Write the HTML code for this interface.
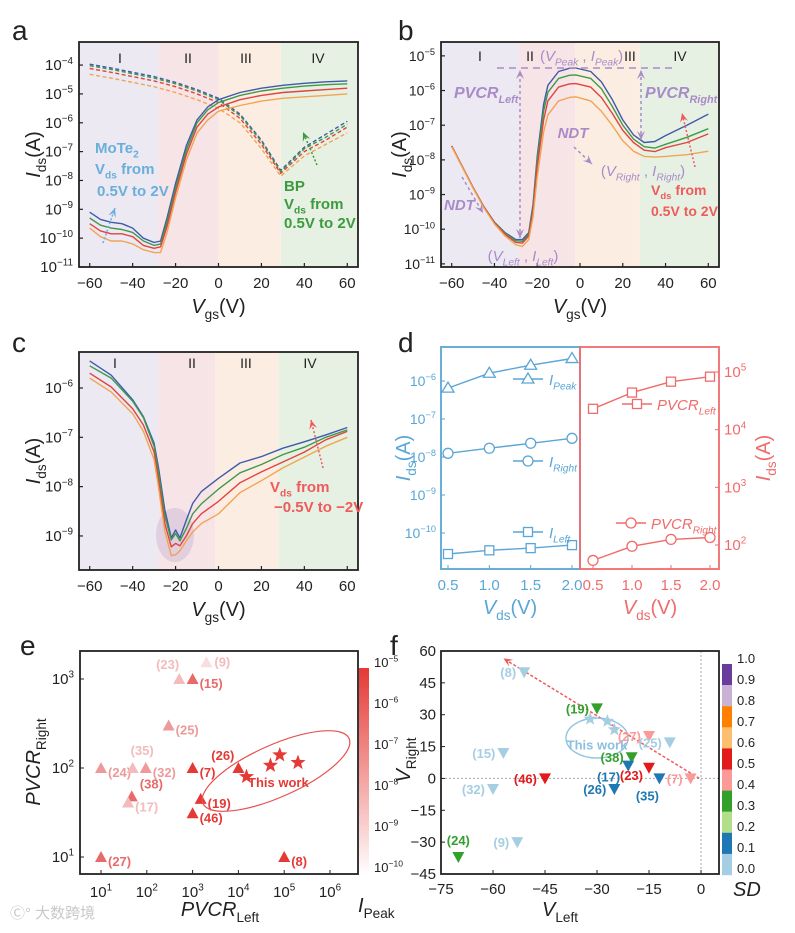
<!DOCTYPE html>
<html><head><meta charset="utf-8">
<style>
html,body{margin:0;padding:0;background:#fff;}
svg{display:block;font-family:"Liberation Sans",Arial,sans-serif;}
</style></head>
<body>
<svg id="fig" width="795" height="933" viewBox="0 0 795 933" xmlns="http://www.w3.org/2000/svg">
<defs>
<linearGradient id="cbE" x1="0" y1="0" x2="0" y2="1">
<stop offset="0" stop-color="#e53935"/><stop offset="1" stop-color="#ffffff"/>
</linearGradient>
</defs>
</svg>
<script>
// ---------- DATA ----------
// panel a (MoTe2 solid), log10(Ids)
const aSolidX = [-60,-55,-50,-45,-40,-35,-30,-27,-24,-20,-15,-10,-5,0,10,20,30,40,50,60];
const aSolidBlue = [-9.1,-9.35,-9.45,-9.5,-9.65,-10.0,-10.15,-10.1,-9.3,-8.1,-6.8,-5.9,-5.45,-5.2,-4.95,-4.8,-4.7,-4.63,-4.58,-4.55];
const aSolidGreen = [-9.3,-9.55,-9.65,-9.7,-9.8,-10.1,-10.25,-10.2,-9.45,-8.25,-6.95,-6.0,-5.55,-5.3,-5.05,-4.9,-4.8,-4.73,-4.68,-4.65];
const aSolidRed = [-9.5,-9.75,-9.85,-9.85,-9.95,-10.25,-10.35,-10.3,-9.6,-8.4,-7.1,-6.15,-5.7,-5.45,-5.2,-5.05,-4.95,-4.9,-4.85,-4.8];
const aSolidOrange = [-9.65,-9.95,-10.1,-10.1,-10.2,-10.4,-10.5,-10.5,-9.8,-8.6,-7.3,-6.35,-5.9,-5.6,-5.4,-5.25,-5.15,-5.1,-5.05,-5.0];
// panel a (BP dashed)
const aDashX = [-60,-50,-40,-30,-20,-10,0,10,20,29,40,50,60];
const aDashBlue = [-3.97,-4.1,-4.25,-4.4,-4.6,-4.85,-5.15,-5.7,-6.6,-7.65,-6.85,-6.4,-5.95];
const aDashGreen = [-4.02,-4.15,-4.3,-4.45,-4.65,-4.9,-5.2,-5.75,-6.65,-7.7,-6.9,-6.5,-6.05];
const aDashRed = [-4.12,-4.25,-4.4,-4.55,-4.75,-5.0,-5.3,-5.85,-6.75,-7.75,-7.0,-6.6,-6.15];
const aDashOrange = [-4.32,-4.45,-4.6,-4.75,-4.95,-5.2,-5.5,-6.0,-6.9,-7.85,-7.15,-6.75,-6.35];
// panel b
const bX = [-60,-55,-50,-45,-40,-35,-30,-27,-24,-22,-20,-17,-15,-10,-5,-2,5,10,15,20,25,30,35,40,50,60];
const bBlue = [-7.6,-8.2,-8.8,-9.35,-9.8,-10.1,-10.3,-10.3,-10.1,-9.3,-7.9,-6.4,-5.85,-5.45,-5.36,-5.35,-5.45,-5.75,-6.25,-6.85,-7.28,-7.5,-7.47,-7.3,-7.0,-6.68];
const bGreen = [-7.6,-8.2,-8.8,-9.35,-9.8,-10.12,-10.33,-10.35,-10.15,-9.4,-8.0,-6.6,-6.05,-5.65,-5.56,-5.55,-5.65,-5.95,-6.45,-7.0,-7.4,-7.62,-7.66,-7.55,-7.35,-7.1];
const bRed = [-7.6,-8.2,-8.8,-9.35,-9.82,-10.15,-10.38,-10.4,-10.2,-9.5,-8.2,-6.85,-6.3,-5.9,-5.81,-5.8,-5.9,-6.2,-6.65,-7.15,-7.5,-7.72,-7.76,-7.65,-7.5,-7.25];
const bOrange = [-7.62,-8.22,-8.82,-9.38,-9.85,-10.2,-10.45,-10.5,-10.3,-9.65,-8.5,-7.2,-6.7,-6.3,-6.2,-6.18,-6.3,-6.6,-7.0,-7.45,-7.75,-7.9,-7.92,-7.9,-7.85,-7.75];
// panel c
const cX = [-60,-50,-40,-35,-30,-28,-25,-22,-20,-18,-15,-12,-8,0,10,20,30,40,50,60];
const cBlue = [-5.45,-5.74,-6.24,-6.58,-7.12,-7.6,-8.47,-9.04,-8.88,-9.04,-8.68,-8.34,-8.1,-7.83,-7.52,-7.39,-7.22,-7.09,-6.95,-6.8];
const cGreen = [-5.55,-5.8,-6.27,-6.6,-7.18,-7.7,-8.6,-9.08,-8.95,-9.1,-8.85,-8.55,-8.35,-8.05,-7.72,-7.55,-7.35,-7.2,-7.0,-6.85];
const cRed = [-5.7,-5.98,-6.42,-6.75,-7.3,-7.85,-8.75,-9.22,-9.15,-9.2,-9.0,-8.75,-8.55,-8.3,-7.92,-7.7,-7.5,-7.3,-7.05,-6.88];
const cOrange = [-5.8,-6.08,-6.52,-6.88,-7.45,-8.0,-8.9,-9.4,-9.38,-9.3,-9.1,-8.92,-8.75,-8.55,-8.12,-7.88,-7.62,-7.4,-7.18,-7.0];
// panel d
const dVds = [0.5,1.0,1.5,2.0];
const dIPeak = [6.5e-7,1.6e-6,2.6e-6,3.9e-6];
const dIRight = [1.25e-8,1.7e-8,2.3e-8,3.1e-8];
const dILeft = [2.8e-11,3.5e-11,4.0e-11,4.8e-11];
const dPVCRLeft = [2.3e4,4.4e4,6.8e4,8.3e4];
const dPVCRRight = [54,95,125,135];
// panel e
const eLabels = ['(24)','(35)','(32)','(38)','(17)','(27)','(23)','(9)','(15)','(25)','(7)','(19)','(46)','(26)','(8)'];
const eLeft = [10,49,95,47,39,10,510,2000,1000,300,1000,1500,1000,1e4,1e5];
const eRight = [100,100,100,48,41,10,1000,1540,1000,300,100,45,31,100,10];
const eLevel = [2,1,2,3,1,3,1,0,3,2,4,4,4,4,4];
const eStarLeft = [1.5e4,5e4,8e4,2e5];
const eStarRight = [80,107,140,115];
// panel f
const fLabels = ['(8)','(19)','(27)','(25)','(15)','(38)','(17)','(23)','(46)','(35)','(7)','(32)','(26)','(24)','(9)'];
const fVLeft = [-51,-30,-15,-9,-57,-20,-21,-15,-45,-12,-3,-60,-25,-70,-53];
const fVRight = [50,33,20,17,12,10,6,5,0,0,0,-5,-5,-37,-30];
const fSD = [0.05,0.35,0.45,0.05,0.05,0.35,0.15,0.55,0.55,0.15,0.45,0.05,0.15,0.35,0.05];
const fStarLeft = [-32,-27,-25];
const fStarRight = [28,27,23];

// ---------- HELPERS ----------
const svg = document.getElementById('fig');
const NS = 'http://www.w3.org/2000/svg';
function mk(tag, attrs, name, parent){
  const el = document.createElementNS(NS, tag);
  for (const k in attrs) el.setAttribute(k, attrs[k]);
  
  
  (parent||svg).appendChild(el);
  return el;
}
function txt(x,y,s,opt,name){
  opt = opt||{};
  const t = mk('text',{x:x,y:y,'font-size':opt.size||15,fill:opt.fill||'#222','text-anchor':opt.anchor||'middle','font-weight':opt.weight||'normal','font-style':opt.style||'normal'},name);
  if (opt.rot) t.setAttribute('transform','rotate('+opt.rot+' '+x+' '+y+')');
  t.textContent = s;
  return t;
}
function rich(x,y,parts,opt,name){
  opt = opt||{};
  const size = opt.size||15;
  const t = mk('text',{x:x,y:y,'font-size':size,fill:opt.fill||'#222','text-anchor':opt.anchor||'middle','font-weight':opt.weight||'normal'},name);
  if (opt.rot) t.setAttribute('transform','rotate('+opt.rot+' '+x+' '+y+')');
  let shift = 0;
  parts.forEach(p=>{
    const ts = document.createElementNS(NS,'tspan');
    let dy = 0, fs = size;
    if (p[1]==='sub'){ dy = size*0.3 - shift; shift = size*0.3; fs = size*0.68; }
    else if (p[1]==='sup'){ dy = -size*0.42 - shift; shift = -size*0.42; fs = size*0.66; }
    else { dy = -shift; shift = 0; }
    if (dy) ts.setAttribute('dy', dy);
    ts.setAttribute('font-size', fs);
    if (p[2]) ts.setAttribute('font-style','italic');
    ts.textContent = p[0];
    t.appendChild(ts);
  });
  return t;
}
function pow10(x,y,e,opt,name){
  return rich(x,y,[['10','n'],[e,'sup']],opt,name);
}
function linScale(d0,d1,r0,r1){ return v => r0 + (v-d0)/(d1-d0)*(r1-r0); }
function logScale(d0,d1,r0,r1){ return v => r0 + (Math.log10(v)-d0)/(d1-d0)*(r1-r0); }
function poly(xs, ys, sx, sy, style, name){
  const pts = xs.map((x,i)=> sx(x).toFixed(1)+','+sy(ys[i]).toFixed(1)).join(' ');
  const a = {points:pts, fill:'none', stroke:style.c, 'stroke-width':style.w||1.4, 'stroke-linejoin':'round'};
  if (style.dash) a['stroke-dasharray'] = style.dash;
  return mk('polyline', a, name);
}
function arrow(x1,y1,x2,y2,color,dash,name,both){
  mk('line',{x1:x1,y1:y1,x2:x2,y2:y2,stroke:color,'stroke-width':1.5,'stroke-dasharray':dash||'2,2'},name);
  const head = (ax,ay,bx,by)=>{
    const ang = Math.atan2(by-ay,bx-ax), L=9, W=4;
    const p1=[bx - L*Math.cos(ang) + W*Math.sin(ang), by - L*Math.sin(ang) - W*Math.cos(ang)];
    const p2=[bx - L*Math.cos(ang) - W*Math.sin(ang), by - L*Math.sin(ang) + W*Math.cos(ang)];
    const p3=[bx - 0.6*L*Math.cos(ang), by - 0.6*L*Math.sin(ang)];
    mk('polygon',{points:[bx,by].join(',')+' '+p1.join(',')+' '+p3.join(',')+' '+p2.join(','),fill:color},name+'-head');
  };
  head(x1,y1,x2,y2);
  if (both) head(x2,y2,x1,y1);
}
const C = {blue:'#3f5ba9', green:'#3e9a4b', red:'#e0443e', orange:'#f2a452'};
const REG = ['#ece9f3','#f6e4e6','#fcede2','#e6f1e4'];

function vgsPanel(p){
  const sx = linScale(-65,65,p.x0,p.x1);
  const sy = v => p.y0 + (p.top - v)/(p.top - p.bot)*(p.y1-p.y0);
  const bounds = [-65].concat(p.reg).concat([65]);
  for (let i=0;i<4;i++){
    mk('rect',{x:sx(bounds[i]),y:p.y0,width:sx(bounds[i+1])-sx(bounds[i]),height:p.y1-p.y0,fill:REG[i]},p.id+'-region-'+(i+1));
  }
  const rl=['I','II','III','IV'];
  for (let i=0;i<4;i++) txt(p.rlx[i],p.rly,rl[i],{size:14},p.id+'-region-label-'+(i+1));
  [-60,-40,-20,0,20,40,60].forEach(v=>{
    mk('line',{x1:sx(v),y1:p.y1,x2:sx(v),y2:p.y1-4,stroke:'#222','stroke-width':1.2},p.id+'-x-tick');
    txt(sx(v),p.y1+21,v<0?'\u2212'+(-v):String(v),{size:15},p.id+'-x-tick-label');
  });
  for (let e=Math.ceil(p.bot); e<=Math.floor(p.top); e++){
    mk('line',{x1:p.x0,y1:sy(e),x2:p.x0+4,y2:sy(e),stroke:'#222','stroke-width':1.2},p.id+'-y-tick');
    pow10(p.x0-6,sy(e)+5,String(e).replace('-','\u2212'),{size:p.ts||15,anchor:'end'},p.id+'-y-tick-label');
  }
  rich((p.x0+p.x1)/2, p.y1+46, [['V','n',1],['gs','sub'],['(V)','n']],{size:20},p.id+'-x-axis-title');
  rich(p.yt, (p.y0+p.y1)/2, [['I','n',1],['ds','sub'],['(A)','n']],{size:20,rot:-90},p.id+'-y-axis-title');
  return {sx,sy};
}
function frame(x0,y0,x1,y1,color,name){
  mk('rect',{x:x0,y:y0,width:x1-x0,height:y1-y0,fill:'none',stroke:color||'#222','stroke-width':1.8},name);
}

// ---------- PANEL a ----------
txt(12,40,'a',{size:28,anchor:'start'},'panel-a-letter');
const A = vgsPanel({id:'a',x0:79,x1:358,y0:42,y1:267,top:-3.2,bot:-11,reg:[-28,0,29],rlx:[120,188,246,318],rly:63,yt:40});
poly(aDashX,aDashBlue,A.sx,A.sy,{c:C.blue,dash:'4,2.5'},'a-bp-blue');
poly(aDashX,aDashGreen,A.sx,A.sy,{c:C.green,dash:'4,2.5'},'a-bp-green');
poly(aDashX,aDashRed,A.sx,A.sy,{c:C.red,dash:'4,2.5'},'a-bp-red');
poly(aDashX,aDashOrange,A.sx,A.sy,{c:C.orange,dash:'4,2.5'},'a-bp-orange');
poly(aSolidX,aSolidBlue,A.sx,A.sy,{c:C.blue},'a-mote2-blue');
poly(aSolidX,aSolidGreen,A.sx,A.sy,{c:C.green},'a-mote2-green');
poly(aSolidX,aSolidRed,A.sx,A.sy,{c:C.red},'a-mote2-red');
poly(aSolidX,aSolidOrange,A.sx,A.sy,{c:C.orange},'a-mote2-orange');
frame(79,42,358,267,null,'a-frame');
rich(95,153,[['MoTe','n'],['2','sub']],{size:15,fill:'#6aaedc',weight:'bold',anchor:'start'},'a-mote2-label');
rich(95,174,[['V','n'],['ds','sub'],[' from','n']],{size:15,fill:'#6aaedc',weight:'bold',anchor:'start'},'a-mote2-vds-label');
txt(97,196,'0.5V to 2V',{size:15,fill:'#6aaedc',weight:'bold',anchor:'start'},'a-mote2-range-label');
arrow(103,243,115,208,'#6aaedc','2,2','a-mote2-arrow');
txt(284,191,'BP',{size:15,fill:'#3d9a3e',weight:'bold',anchor:'start'},'a-bp-label');
rich(284,209,[['V','n'],['ds','sub'],[' from','n']],{size:15,fill:'#3d9a3e',weight:'bold',anchor:'start'},'a-bp-vds-label');
txt(284,228,'0.5V to 2V',{size:15,fill:'#3d9a3e',weight:'bold',anchor:'start'},'a-bp-range-label');
arrow(317,165,303,132,'#3d9a3e','2,2','a-bp-arrow');

// ---------- PANEL b ----------
txt(398,40,'b',{size:28,anchor:'start'},'panel-b-letter');
const B = vgsPanel({id:'b',x0:441,x1:719,y0:42,y1:267,top:-4.6,bot:-11.09,reg:[-28.5,-2.3,28],rlx:[480,530,630,680],rly:61,yt:406,ts:14});
poly(bX,bBlue,B.sx,B.sy,{c:C.blue},'b-curve-blue');
poly(bX,bGreen,B.sx,B.sy,{c:C.green},'b-curve-green');
poly(bX,bRed,B.sx,B.sy,{c:C.red},'b-curve-red');
poly(bX,bOrange,B.sx,B.sy,{c:C.orange},'b-curve-orange');
frame(441,42,719,267,null,'b-frame');
const PUR='#a98bc8';
mk('line',{x1:497,y1:68,x2:672,y2:68,stroke:PUR,'stroke-width':1.6,'stroke-dasharray':'7,5'},'b-peak-line');
arrow(520,238,520,70,PUR,'3,3','b-pvcr-left-arrow',true);
arrow(641,140,641,70,PUR,'3,3','b-pvcr-right-arrow',true);
rich(454,98,[['PVCR','n',1],['Left','sub',1]],{size:16,fill:PUR,weight:'bold',anchor:'start'},'b-pvcr-left-label');
rich(645,98,[['PVCR','n',1],['Right','sub',1]],{size:16,fill:PUR,weight:'bold',anchor:'start'},'b-pvcr-right-label');
rich(540,61,[['(','n'],['V','n',1],['Peak','sub',1],[' , ','n'],['I','n',1],['Peak','sub',1],[')','n']],{size:15,fill:PUR,anchor:'start'},'b-peak-label');
rich(573,138,[['NDT','n',1]],{size:15,fill:PUR,weight:'bold'},'b-ndt-right-label');
arrow(574,147,592,164,PUR,'3,3','b-ndt-right-arrow');
rich(444,210,[['NDT','n',1]],{size:15,fill:PUR,weight:'bold',anchor:'start'},'b-ndt-left-label');
arrow(462,177,483,213,PUR,'3,3','b-ndt-left-arrow');
rich(643,176,[['(','n'],['V','n',1],['Right','sub',1],[' , ','n'],['I','n',1],['Right','sub',1],[')','n']],{size:15,fill:PUR},'b-right-point-label');
rich(523,261,[['(','n'],['V','n',1],['Left','sub',1],[' , ','n'],['I','n',1],['Left','sub',1],[')','n']],{size:15,fill:PUR},'b-left-point-label');
rich(651,195,[['V','n'],['ds','sub'],[' from','n']],{size:14,fill:'#ef5a5a',weight:'bold',anchor:'start'},'b-vds-label');
txt(651,216,'0.5V to 2V',{size:14,fill:'#ef5a5a',weight:'bold',anchor:'start'},'b-vds-range-label');
arrow(695,167,682,113,'#ef5a5a','2,2','b-vds-arrow');

// ---------- PANEL c ----------
txt(12,352,'c',{size:28,anchor:'start'},'panel-c-letter');
const Cc = vgsPanel({id:'c',x0:79,x1:358,y0:352,y1:570,top:-5.27,bot:-9.69,reg:[-28,-1.5,28],rlx:[115,192,246,310],rly:368,yt:40});
mk('ellipse',{cx:175,cy:535,rx:19,ry:27,fill:'#b9a6cf',opacity:0.35},'c-min-highlight');
poly(cX,cBlue,Cc.sx,Cc.sy,{c:C.blue},'c-curve-blue');
poly(cX,cGreen,Cc.sx,Cc.sy,{c:C.green},'c-curve-green');
poly(cX,cRed,Cc.sx,Cc.sy,{c:C.red},'c-curve-red');
poly(cX,cOrange,Cc.sx,Cc.sy,{c:C.orange},'c-curve-orange');
frame(79,352,358,570,null,'c-frame');
rich(270,492,[['V','n'],['ds','sub'],[' from','n']],{size:15,fill:'#ef5a5a',weight:'bold',anchor:'start'},'c-vds-label');
txt(274,512,'\u22120.5V to \u22122V',{size:15,fill:'#ef5a5a',weight:'bold',anchor:'start'},'c-vds-range-label');
arrow(323,468,311,420,'#ef5a5a','2,2','c-vds-arrow');

// ---------- PANEL d ----------
txt(398,352,'d',{size:28,anchor:'start'},'panel-d-letter');
const DB='#5aa6d6', DR='#f06b6b';
const dxL = linScale(0.5,2.0,448,572), dyL = logScale(-6,-10,381,533);
const dxR = linScale(0.5,2.0,593,710), dyR = logScale(5,2,372,545);
function marker(type,x,y,col,name){
  if (type==='tri') mk('polygon',{points:`${x},${y-6} ${x-6},${y+4} ${x+6},${y+4}`,fill:'#fff',stroke:col,'stroke-width':1.3},name);
  else if (type==='sq') mk('rect',{x:x-4.5,y:y-4.5,width:9,height:9,fill:'#fff',stroke:col,'stroke-width':1.3},name);
  else mk('circle',{cx:x,cy:y,r:5,fill:'#fff',stroke:col,'stroke-width':1.3},name);
}
function dSeries(vals,sx,sy,col,type,name){
  poly(dVds,vals,sx,v=>sy(v),{c:col,w:1.4},name+'-line');
  dVds.forEach((v,i)=>marker(type,sx(v),sy(vals[i]),col,name+'-marker'));
}
dSeries(dIPeak,dxL,dyL,DB,'tri','d-ipeak');
dSeries(dIRight,dxL,dyL,DB,'circ','d-iright');
dSeries(dILeft,dxL,dyL,DB,'sq','d-ileft');
dSeries(dPVCRLeft,dxR,dyR,DR,'sq','d-pvcr-left');
dSeries(dPVCRRight,dxR,dyR,DR,'circ','d-pvcr-right');
frame(441,347,580,569,DB,'d-left-frame');
frame(580,347,719,569,DR,'d-right-frame');
[0.5,1.0,1.5,2.0].forEach(v=>{
  mk('line',{x1:dxL(v),y1:569,x2:dxL(v),y2:565,stroke:DB},'d-left-x-tick');
  txt(dxL(v),590,v.toFixed(1),{size:15,fill:DB},'d-left-x-tick-label');
  mk('line',{x1:dxR(v),y1:569,x2:dxR(v),y2:565,stroke:DR},'d-right-x-tick');
  txt(dxR(v),590,v.toFixed(1),{size:15,fill:DR},'d-right-x-tick-label');
});
[-6,-7,-8,-9,-10].forEach(e=>{
  mk('line',{x1:441,y1:dyL(Math.pow(10,e)),x2:445,y2:dyL(Math.pow(10,e)),stroke:DB},'d-left-y-tick');
  pow10(436,dyL(Math.pow(10,e))+5,'\u2212'+(-e),{size:14,fill:DB,anchor:'end'},'d-left-y-tick-label');
});
[5,4,3,2].forEach(e=>{
  mk('line',{x1:719,y1:dyR(Math.pow(10,e)),x2:715,y2:dyR(Math.pow(10,e)),stroke:DR},'d-right-y-tick');
  pow10(724,dyR(Math.pow(10,e))+5,String(e),{size:15,fill:DR,anchor:'start'},'d-right-y-tick-label');
});
rich(510,614,[['V','n',1],['ds','sub'],['(V)','n']],{size:20,fill:DB},'d-left-x-axis-title');
rich(650,614,[['V','n',1],['ds','sub'],['(V)','n']],{size:20,fill:DR},'d-right-x-axis-title');
rich(410,458,[['I','n',1],['ds','sub'],['(A)','n']],{size:20,fill:DB,rot:-90},'d-left-y-axis-title');
rich(770,458,[['I','n',1],['ds','sub'],['(A)','n']],{size:20,fill:DR,rot:-90},'d-right-y-axis-title');
function dLeg(x1,x2,y,type,col,parts,tx,name){
  mk('line',{x1:x1,y1:y,x2:x2,y2:y,stroke:col,'stroke-width':1.4},name+'-line');
  marker(type,(x1+x2)/2,y,col,name+'-marker');
  rich(tx,y+6,parts,{size:15,fill:col,anchor:'start'},name+'-text');
}
dLeg(513,543,379,'tri',DB,[['I','n',1],['Peak','sub',1]],549,'d-legend-ipeak');
dLeg(513,543,461,'circ',DB,[['I','n',1],['Right','sub',1]],549,'d-legend-iright');
dLeg(513,543,532,'sq',DB,[['I','n',1],['Left','sub',1]],549,'d-legend-ileft');
dLeg(622,652,404,'sq',DR,[['PVCR','n',1],['Left','sub',1]],657,'d-legend-pvcr-left');
dLeg(616,646,523,'circ',DR,[['PVCR','n',1],['Right','sub',1]],651,'d-legend-pvcr-right');

// ---------- PANEL e ----------
txt(20,655,'e',{size:28,anchor:'start'},'panel-e-letter');
const ex = logScale(1,6,101,330), ey = logScale(3,1,679,857);
const ECOL = ['#f8dede','#f3bcbc','#ee9a9a','#e96a6a','#e53935'];
frame(80,651,358,874,null,'e-frame');
for (let e=1;e<=6;e++){
  mk('line',{x1:ex(Math.pow(10,e)),y1:874,x2:ex(Math.pow(10,e)),y2:870,stroke:'#222'},'e-x-tick');
  pow10(ex(Math.pow(10,e)),897,String(e),{size:15},'e-x-tick-label');
}
[3,2,1].forEach(e=>{
  mk('line',{x1:80,y1:ey(Math.pow(10,e)),x2:84,y2:ey(Math.pow(10,e)),stroke:'#222'},'e-y-tick');
  pow10(74,ey(Math.pow(10,e))+5,String(e),{size:15,anchor:'end'},'e-y-tick-label');
});
const eLabOff = {'(23)':[-6,-15],'(9)':[8,-1],'(35)':[-2,-18],'(26)':[-10,-13],'(38)':[8,-13]};
eLabels.forEach((l,i)=>{
  const x=ex(eLeft[i]), y=ey(eRight[i]);
  mk('polygon',{points:`${x},${y-6} ${x-6},${y+5} ${x+6},${y+5}`,fill:ECOL[eLevel[i]]},'e-point');
  const o = eLabOff[l]||[7,4];
  const anchor = (l==='(23)'||l==='(26)')?'end':'start';
  txt(x+(anchor==='end'?o[0]+6:o[0]),y+o[1]+5,l,{size:13,fill:ECOL[eLevel[i]===0?1:eLevel[i]],weight:'bold',anchor:anchor},'e-point-label');
});
mk('ellipse',{cx:276,cy:771,rx:80,ry:26,fill:'none',stroke:'#e85050','stroke-width':1.2,transform:'rotate(-24 276 771)'},'e-this-work-ellipse');
eStarLeft.forEach((v,i)=>{
  const x=ex(v), y=ey(eStarRight[i]), pts=[];
  for (let k=0;k<10;k++){ const r=k%2?3.3:8, a=-Math.PI/2+k*Math.PI/5; pts.push((x+r*Math.cos(a)).toFixed(1)+','+(y+r*Math.sin(a)).toFixed(1)); }
  mk('polygon',{points:pts.join(' '),fill:'#e53935'},'e-this-work-star');
});
txt(248,787,'This work',{size:13,fill:'#e53935',weight:'bold',anchor:'start'},'e-this-work-label');
mk('rect',{x:359,y:668,width:10,height:207,fill:'url(#cbE)'},'e-colorbar');
[-5,-6,-7,-8,-9,-10].forEach((e,i)=>pow10(374,667+i*41,'\u2212'+(-e),{size:13,anchor:'start'},'e-colorbar-label'));
rich(220,916,[['PVCR','n',1],['Left','sub']],{size:20},'e-x-axis-title');
rich(40,762,[['PVCR','n',1],['Right','sub']],{size:20,rot:-90},'e-y-axis-title');
rich(358,912,[['I','n',1],['Peak','sub']],{size:20,anchor:'start'},'e-colorbar-title');
txt(10,918,'\u24b8\u00b0 \u5927\u6570\u8de8\u5883',{size:15,fill:'#c8c8c8',anchor:'start'},'watermark');

// ---------- PANEL f ----------
txt(390,655,'f',{size:28,anchor:'start'},'panel-f-letter');
const fx = linScale(-75,0,441,701), fy = linScale(60,-45,651,874);
const SDCOL = ['#a6cee3','#1f78b4','#b2df8a','#33a02c','#fb9a99','#e31a1c','#fdbf6f','#ff7f00','#cab2d6','#6a3d9a'];
const sdColor = v => SDCOL[Math.min(9,Math.floor(v*10))];
mk('line',{x1:fx(0),y1:651,x2:fx(0),y2:874,stroke:'#aaa','stroke-dasharray':'2,2'},'f-zero-vline');
mk('line',{x1:441,y1:fy(0),x2:719,y2:fy(0),stroke:'#aaa','stroke-dasharray':'2,2'},'f-zero-hline');
arrow(fx(-0.5),fy(0),fx(-57),fy(56.5),'#ef5a5a','3,2','f-trend-arrow');
mk('ellipse',{cx:fx(-30),cy:fy(19),rx:31,ry:20,fill:'none',stroke:'#8cc0e0','stroke-width':1.3},'f-this-work-ellipse');
txt(fx(-30),fy(15)+3,'This work',{size:13,fill:'#8cc0e0',weight:'bold'},'f-this-work-label');
fStarLeft.forEach((v,i)=>{
  const x=fx(v), y=fy(fStarRight[i]), pts=[];
  for (let k=0;k<10;k++){ const r=k%2?3:7, a=-Math.PI/2+k*Math.PI/5; pts.push((x+r*Math.cos(a)).toFixed(1)+','+(y+r*Math.sin(a)).toFixed(1)); }
  mk('polygon',{points:pts.join(' '),fill:'#a6cee3'},'f-this-work-star');
});
const fLabOff = {'(17)':[-8,16,'end'],'(23)':[-6,12,'end'],'(35)':[-12,22,'middle'],'(24)':[0,-12,'middle'],'(26)':[-8,5,'end']};
fLabels.forEach((l,i)=>{
  const x=fx(fVLeft[i]), y=fy(fVRight[i]), col=sdColor(fSD[i]);
  mk('polygon',{points:`${x-6},${y-5} ${x+6},${y-5} ${x},${y+6}`,fill:col},'f-point');
  const o = fLabOff[l]||[-8,5,'end'];
  txt(x+o[0],y+o[1],l,{size:13,fill:col,weight:'bold',anchor:o[2]},'f-point-label');
});
frame(441,651,719,874,null,'f-frame');
[-75,-60,-45,-30,-15,0].forEach(v=>{
  mk('line',{x1:fx(v),y1:874,x2:fx(v),y2:870,stroke:'#222'},'f-x-tick');
  txt(fx(v),894,v<0?'\u2212'+(-v):'0',{size:15},'f-x-tick-label');
});
[60,45,30,15,0,-15,-30,-45].forEach(v=>{
  mk('line',{x1:441,y1:fy(v),x2:445,y2:fy(v),stroke:'#222'},'f-y-tick');
  txt(436,fy(v)+5,v<0?'\u2212'+(-v):String(v),{size:15,anchor:'end'},'f-y-tick-label');
});
for (let i=0;i<10;i++) mk('rect',{x:722,y:664+i*21.1,width:10,height:21.3,fill:SDCOL[9-i]},'f-colorbar-segment');
for (let i=0;i<=10;i++) txt(737,663+i*21,(1-i/10).toFixed(1),{size:13,anchor:'start'},'f-colorbar-label');
rich(560,916,[['V','n',1],['Left','sub']],{size:20},'f-x-axis-title');
rich(410,760,[['V','n',1],['Right','sub']],{size:20,rot:-90},'f-y-axis-title');
txt(733,896,'SD',{size:20,style:'italic',anchor:'start'},'f-colorbar-title');
</script>
</body></html>
